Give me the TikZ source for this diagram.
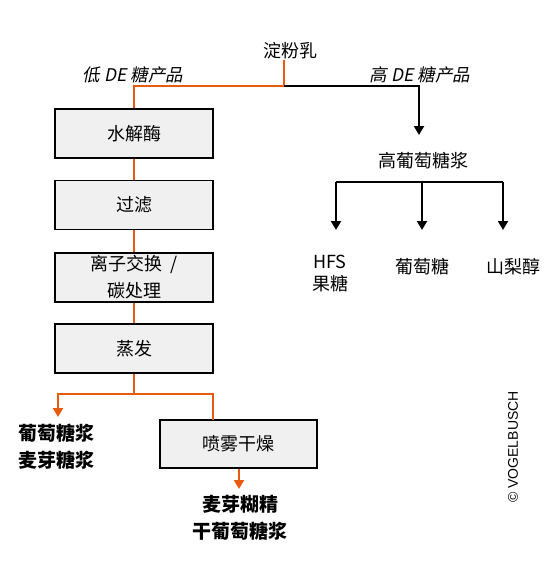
\documentclass[tikz,border=0pt]{standalone}
\usepackage{fontspec}
\setmainfont{Liberation Sans}
\newfontfamily\cjk{Noto Sans CJK SC}
\newfontfamily\cjkslant[FakeSlant=0.2]{Noto Sans CJK SC}
\usetikzlibrary{arrows.meta, positioning}
\usepackage{xcolor}
\definecolor{flow}{RGB}{232,90,16}
\definecolor{boxfill}{RGB}{240,240,240}

\tikzset{
  stepbox/.style={draw=black, line width=1.8pt, fill=boxfill, minimum width=158pt,
    minimum height=49pt, inner sep=0pt, align=center, font=\cjk\fontsize{18}{27}\selectfont},
  txt/.style={inner sep=0pt, align=center, font=\cjk\fontsize{18}{22}\selectfont},
  branch/.style={inner sep=0pt, align=center, font=\cjkslant\fontsize{17.5}{22}\selectfont},
  product/.style={inner sep=0pt, align=center, font=\cjk\bfseries\fontsize{19}{27}\selectfont},
  orangeline/.style={draw=flow, line width=2pt},
  blackline/.style={draw=black, line width=2pt},
  tip/.style={-{Triangle[width=10pt,length=9pt]}}
}

\begin{document}
\begin{tikzpicture}[x=1pt, y=-1pt]
  \useasboundingbox (0,0) rectangle (545,573);

  % feed and split
  \node[txt] (starch) at (290,51) {淀粉乳};
  \coordinate (split) at (284,86);
  \node[branch] (lowde) at (133,75) {低 DE 糖产品};
  \node[branch] (highde) at (420,75) {高 DE 糖产品};

  % low DE line
  \node[stepbox] (hydro) at (134,133.5) {水解酶};
  \node[stepbox] (filt) at (134,205) {过滤};
  \node[stepbox] (ion) at (134,277.5) {离子交换\ \ /\\碳处理};
  \node[stepbox] (evap) at (134,348.5) {蒸发};
  \node[stepbox, minimum width=157pt, minimum height=48pt] (spray) at (238.5,444) {喷雾干燥};
  \coordinate (fork) at (134,394);
  \coordinate (syrtip) at (58,417);
  \coordinate (sprayin) at (213,420);
  \coordinate (drytip) at (239,489);
  \node[product] (syrups) at (56,446.5) {葡萄糖浆\\麦芽糖浆};
  \node[product] (dextrin) at (240,518) {麦芽糊精\\干葡萄糖浆};

  \draw[orangeline] (starch.south -| split) -- (split) -| (hydro.north);
  \draw[orangeline] (hydro) -- (filt);
  \draw[orangeline] (filt) -- (ion);
  \draw[orangeline] (ion) -- (evap);
  \draw[orangeline] (evap.south) -- (fork);
  \draw[orangeline, tip] (fork) -| (syrtip);
  \draw[orangeline] (fork) -| (sprayin);
  \draw[orangeline, tip] (spray.south -| drytip) -- (drytip);

  % high DE line
  \coordinate (hightip) at (419,135);
  \node[txt] (hfcs) at (423,161) {高葡萄糖浆};
  \coordinate (barl) at (336,182);
  \coordinate (barm) at (422,182);
  \coordinate (barr) at (503,182);
  \node[txt] (hfs) at (330,274) {HFS\\果糖};
  \node[txt] (dex) at (422,267) {葡萄糖};
  \node[txt] (sorb) at (513,267) {山梨醇};

  \draw[blackline, tip] (split) -| (hightip);
  \draw[blackline] (barl) -- (barr);
  \draw[blackline, tip] (barl) -- (barl |- 0,230);
  \draw[blackline, tip] (barm) -- (barm |- 0,230);
  \draw[blackline, tip] (barr) -- (barr |- 0,230);

  \node[rotate=90, inner sep=0pt, font=\fontsize{14}{16}\selectfont] (brand) at (513,447) {© VOGELBUSCH};
\end{tikzpicture}
\end{document}
